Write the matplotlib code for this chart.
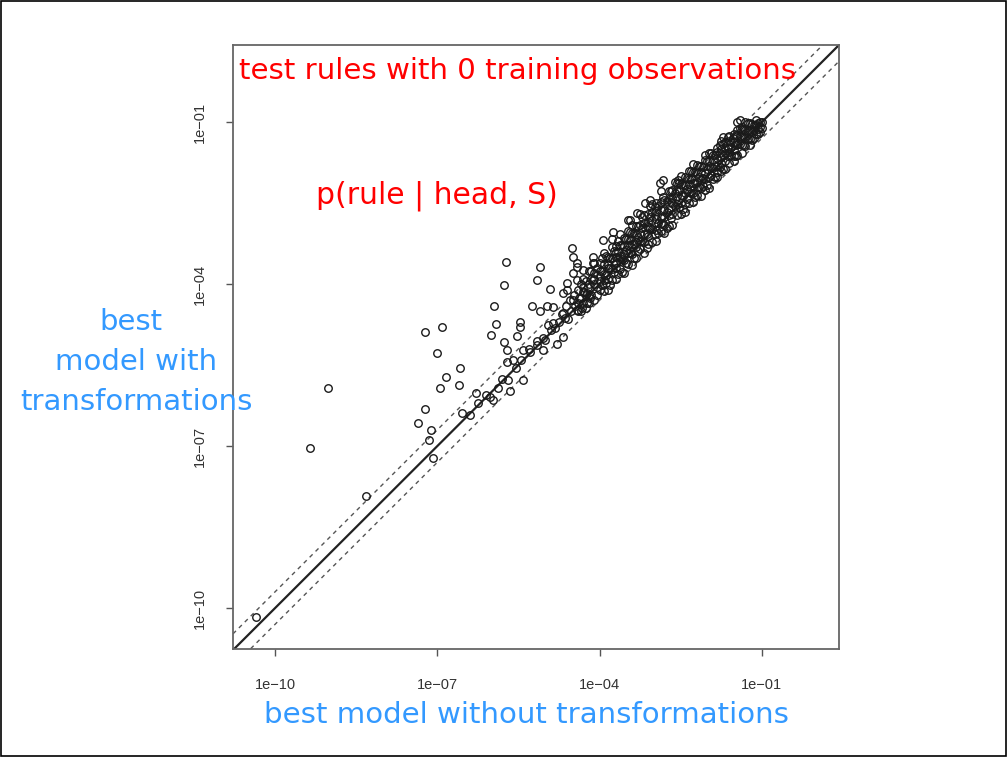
import numpy as np
import matplotlib
matplotlib.use("Agg")
import matplotlib.pyplot as plt
from matplotlib.patches import Rectangle
from matplotlib.ticker import FixedLocator, FixedFormatter, NullLocator

# ---------------- data (log10 values) ----------------
tick_exponents = [-10, -7, -4, -1]
tick_labels = ["1e\u221210", "1e\u221207", "1e\u221204", "1e\u221201"]

# sparse points (left of the dense band)
sparse_lx = [-10.35, -9.35, -9.02, -8.32, -7.23, -6.91, -7.00, -6.95, -7.23, -7.36,
             -7.12, -7.16, -7.08, -6.58, -6.84, -6.60, -6.28, -6.02, -6.54, -5.73,
             -5.10, -5.16, -5.77, -4.92, -5.95, -5.25, -4.97, -5.10, -5.47, -5.91,
             -5.47, -6.01, -5.53, -5.77, -5.71, -5.42, -5.16, -5.71, -5.69, -5.66,
             -5.42, -5.05, -4.79, -4.68, -4.49, -4.42, -4.60, -4.42, -4.68, -4.49,
             -4.86, -4.86, -4.68, -4.42, -4.23, -4.12, -4.12, -4.31, -4.23,
             -5.88, -5.29, -5.01, -4.82, -4.64, -6.40, -5.97, -5.60,
             -4.51, -4.42, -4.49, -4.60, -4.12, -3.94, -3.75, -3.44, -3.31, -3.16,
             -3.07, -2.88, -2.55, -1.40, -1.37, -1.72, -1.53, -1.83, -2.83]
sparse_ly = [-10.17, -7.04, -5.93, -7.93, -4.89, -4.80, -5.28, -5.93, -6.31, -6.57,
             -6.70, -6.89, -7.22, -5.56, -5.72, -5.87, -6.02, -6.09, -6.39, -3.59,
             -3.69, -3.93, -4.02, -4.09, -4.41, -4.41, -4.41, -4.50, -4.70, -4.74,
             -4.80, -4.94, -4.96, -5.07, -5.22, -5.22, -5.13, -5.44, -5.78, -5.98,
             -5.78, -5.22, -5.11, -4.98, -3.50, -3.69, -4.11, -3.93, -4.17, -4.30,
             -4.43, -4.72, -4.54, -4.48, -4.35, -3.93, -3.61, -3.74, -4.17,
             -5.93, -5.26, -5.04, -4.81, -4.63, -6.43, -6.15, -5.41,
             -3.33, -3.61, -3.80, -3.98, -3.50, -3.19, -3.04, -2.81, -2.69, -2.50,
             -2.44, -2.13, -2.07, -0.96, -1.09, -1.28, -1.30, -1.56, -2.07]

# points hugging the diagonal at the lower-left end of the band
foot_lx = [-4.75, -4.70, -4.62, -4.58, -4.55, -4.52, -4.47, -4.45, -4.38, -4.33,
           -4.28, -4.22, -4.18, -4.90, -4.95, -5.05, -5.15, -5.30, -5.45, -5.55,
           -5.80, -6.10, -6.25]
foot_ly = [-4.70, -4.55, -4.40, -4.65, -4.30, -4.50, -4.20, -4.40, -4.25, -4.45,
           -4.15, -4.05, -4.25, -4.85, -4.75, -5.00, -5.05, -5.20, -5.40, -5.55,
           -5.75, -6.05, -6.20]

# dense band along the diagonal
band_lx = ([-4.40] * 3 + [-4.30] * 4 + [-4.20] * 4 + [-4.10] * 5 + [-4.00] * 5 +
           [-3.92] * 5 + [-3.85] * 5 + [-3.77] * 5 + [-3.70] * 6 + [-3.62] * 5 +
           [-3.55] * 5 + [-3.47] * 6 + [-3.40] * 5 + [-3.32] * 5 + [-3.25] * 5 +
           [-3.17] * 5 + [-3.10] * 5 + [-3.02] * 5 + [-2.95] * 5 + [-2.87] * 6 +
           [-2.80] * 5 + [-2.72] * 5 + [-2.65] * 5 + [-2.57] * 5 + [-2.50] * 5 +
           [-2.42] * 5 + [-2.35] * 5 + [-2.27] * 5 + [-2.20] * 5 + [-2.12] * 5 +
           [-2.05] * 5 + [-1.97] * 5 + [-1.90] * 4 + [-1.82] * 5 + [-1.75] * 5 +
           [-1.67] * 5 + [-1.60] * 4 + [-1.52] * 5 + [-1.45] * 5 + [-1.37] * 4 +
           [-1.30] * 4 + [-1.22] * 4 + [-1.15] * 3 + [-1.07] * 3 + [-1.00] * 2)
band_ly = [-4.35, -4.10, -4.50,
           -4.15, -3.90, -4.35, -4.05,
           -4.20, -4.00, -3.75, -4.35,
           -4.00, -3.80, -4.30, -3.60, -3.90,
           -3.95, -3.75, -3.60, -4.10, -3.85,
           -4.12, -3.82, -3.62, -3.42, -3.92,
           -3.65, -3.50, -3.90, -3.70, -4.10,
           -3.72, -3.52, -3.32, -3.92, -3.17,
           -3.60, -3.40, -3.90, -3.70, -3.30, -3.50,
           -3.72, -3.47, -3.27, -3.07, -3.57,
           -3.30, -3.55, -3.80, -3.15, -3.45,
           -3.42, -3.27, -3.02, -3.62, -3.17, -2.82,
           -3.25, -3.45, -3.05, -3.65, -2.90,
           -3.32, -3.07, -2.92, -3.52, -3.22,
           -3.05, -3.35, -2.90, -2.70, -3.20,
           -3.07, -2.87, -3.42, -2.72, -3.22,
           -2.85, -3.10, -2.70, -3.25, -2.95,
           -2.97, -2.67, -3.22, -2.52, -2.82,
           -2.80, -3.00, -2.65, -2.50, -3.20,
           -2.87, -2.62, -2.47, -3.02, -2.77, -2.27,
           -2.60, -2.90, -2.45, -2.75, -3.05,
           -2.62, -2.42, -2.27, -2.92, -2.72,
           -2.40, -2.70, -2.50, -2.25, -2.90,
           -2.52, -2.27, -2.72, -2.12, -2.37,
           -2.35, -2.15, -2.70, -2.50, -2.00,
           -2.17, -2.52, -2.32, -2.02, -2.67,
           -2.30, -2.05, -2.50, -2.15, -1.90,
           -2.12, -2.32, -1.92, -2.47, -1.77,
           -2.20, -1.95, -1.80, -2.35, -2.10,
           -1.92, -2.22, -1.82, -2.07, -2.37,
           -1.95, -1.70, -2.25, -2.05, -1.60,
           -1.72, -2.02, -1.82, -2.22, -1.57,
           -1.85, -1.60, -2.05, -1.70,
           -1.67, -1.92, -1.47, -1.82, -2.02,
           -1.65, -1.50, -1.90, -1.35, -1.75,
           -1.47, -1.72, -1.37, -1.87, -1.57,
           -1.55, -1.35, -1.75, -1.25,
           -1.37, -1.62, -1.52, -1.22, -1.72,
           -1.40, -1.25, -1.60, -1.00, -1.15,
           -1.27, -1.42, -1.12, -1.57,
           -1.30, -1.15, -1.45, -1.00,
           -1.17, -1.32, -1.02, -1.42,
           -1.15, -1.30, -1.05,
           -1.12, -1.22, -1.02,
           -1.10, -1.00]

# second pass over the dense band (points between the columns above)
band2_lx = ([-4.35] * 3 + [-4.25] * 3 + [-4.15] * 3 + [-4.05] * 3 + [-3.96] * 3 +
            [-3.88] * 3 + [-3.81] * 3 + [-3.73] * 3 + [-3.66] * 3 + [-3.58] * 3 +
            [-3.51] * 3 + [-3.43] * 3 + [-3.36] * 3 + [-3.28] * 3 + [-3.21] * 3 +
            [-3.13] * 3 + [-3.06] * 3 + [-2.98] * 3 + [-2.91] * 3 + [-2.83] * 3 +
            [-2.76] * 3 + [-2.68] * 3 + [-2.61] * 3 + [-2.53] * 3 + [-2.46] * 3 +
            [-2.38] * 3 + [-2.31] * 3 + [-2.23] * 3 + [-2.16] * 3 + [-2.08] * 3 +
            [-2.01] * 3 + [-1.93] * 3 + [-1.86] * 3 + [-1.78] * 3 + [-1.71] * 3 +
            [-1.63] * 3 + [-1.56] * 3 + [-1.48] * 3 + [-1.41] * 3 + [-1.33] * 3 +
            [-1.26] * 3 + [-1.18] * 3 + [-1.11] * 3 + [-1.04] * 3)
band2_ly = [-4.25, -4.00, -4.50, -3.95, -4.20, -4.45, -3.90, -4.20, -3.75,
            -3.70, -4.05, -4.20, -3.76, -4.01, -3.51, -3.48, -3.83, -3.98,
            -3.71, -3.51, -4.01, -3.38, -3.58, -3.78, -3.41, -3.21, -3.81,
            -3.53, -3.28, -3.78, -3.16, -3.36, -3.61, -3.18, -3.03, -3.43,
            -3.26, -3.06, -3.51, -2.93, -3.13, -3.38, -2.96, -2.76, -3.21,
            -3.08, -2.93, -3.33, -2.76, -2.96, -2.56, -2.73, -3.08, -2.58,
            -2.86, -2.56, -3.06, -2.63, -2.38, -2.88, -2.46, -2.66, -2.96,
            -2.48, -2.28, -2.78, -2.56, -2.31, -2.11, -2.28, -2.58, -2.13,
            -2.36, -2.16, -2.61, -2.03, -2.23, -2.43, -2.06, -2.31, -1.91,
            -2.13, -1.93, -2.38, -1.81, -2.01, -2.21, -1.83, -2.18, -2.03,
            -1.86, -1.71, -2.16, -1.83, -1.58, -1.98, -1.61, -1.81, -2.01,
            -1.58, -1.43, -1.83, -1.61, -1.41, -1.86, -1.48, -1.63, -1.28,
            -1.36, -1.61, -1.46, -1.43, -1.23, -1.63, -1.26, -1.41, -1.11,
            -1.28, -1.13, -1.43, -1.16, -1.31, -1.01, -1.18, -1.03, -1.33,
            -1.06, -1.21, -0.96, -1.09, -0.99, -1.19]

band_factor = 2.0  # dashed reference lines at 2x and 1/2x
x_limits_log = (-10.78, 0.43)
y_limits_log = (-10.76, 0.43)

title_text = "test rules with 0 training observations"
subtitle_text = "p(rule | head, S)"
ylabel_lines = ["best", "model with", "transformations"]
xlabel_text = "best model without transformations"

# ---------------- figure ----------------
W, H = 1008, 757
fig = plt.figure(figsize=(W / 100, H / 100), dpi=100)
fig.patch.set_facecolor("white")
ax = fig.add_axes([233 / W, 1 - 649 / H, 606 / W, 604 / H])
ax.set_xscale("log")
ax.set_yscale("log")
ax.set_xlim(10 ** x_limits_log[0], 10 ** x_limits_log[1])
ax.set_ylim(10 ** y_limits_log[0], 10 ** y_limits_log[1])

all_lx = sparse_lx + foot_lx + band_lx + band2_lx
all_ly = sparse_ly + foot_ly + band_ly + band2_ly
xs = np.power(10.0, np.array(all_lx))
ys = np.power(10.0, np.array(all_ly))
ax.plot(xs, ys, linestyle="none", marker="o", markersize=5.4,
        markerfacecolor="none", markeredgecolor="#1a1a1a", markeredgewidth=1.0,
        zorder=3)

line_x = np.array([10 ** x_limits_log[0], 10 ** x_limits_log[1]])
ax.plot(line_x, line_x, color="#222222", lw=1.6, zorder=2)
ax.plot(line_x, line_x * band_factor, color="#555555", lw=1.0,
        linestyle=(0, (3, 3)), zorder=2)
ax.plot(line_x, line_x / band_factor, color="#555555", lw=1.0,
        linestyle=(0, (3, 3)), zorder=2)

ticks = [10.0 ** e for e in tick_exponents]
for axis in (ax.xaxis, ax.yaxis):
    axis.set_major_locator(FixedLocator(ticks))
    axis.set_major_formatter(FixedFormatter(tick_labels))
    axis.set_minor_locator(NullLocator())
ax.tick_params(axis="both", direction="out", length=5, width=1.0, color="#555555",
               labelsize=10.5, labelcolor="#333333")
ax.tick_params(axis="x", pad=16)
ax.tick_params(axis="y", pad=14)
for lab in ax.get_yticklabels():
    lab.set_rotation(90)
    lab.set_va("center")
    lab.set_ha("right")
for lab in ax.get_xticklabels() + ax.get_yticklabels():
    lab.set_family("Liberation Sans")
for sp in ax.spines.values():
    sp.set_color("#666666")
    sp.set_linewidth(1.3)

# ---------------- texts, sized to reference widths ----------------
renderer = fig.canvas.get_renderer()


def fit_text(cx, cy, s, target_w, color, family="DejaVu Sans", size=None):
    t = fig.text(cx / W, 1 - cy / H, s, ha="center", va="center", color=color,
                 family=family, fontsize=20)
    if size is None:
        w = t.get_window_extent(renderer).width
        size = 20 * target_w / w
    t.set_fontsize(size)
    return size


red = "#ff0000"
blue = "#3399ff"
fit_text(518, 71, title_text, 557, red)
fit_text(437, 196, subtitle_text, 242, red)
fit_text(527, 715, xlabel_text, 525, blue)
sz = fit_text(136, 402, ylabel_lines[2], 232, blue)
fit_text(136, 362, ylabel_lines[1], 0, blue, size=sz)
fit_text(131, 322, ylabel_lines[0], 0, blue, size=sz)

fig.patches.append(Rectangle((0.0005, 0.001), 0.998, 0.998, transform=fig.transFigure,
                             fill=False, edgecolor="black", lw=1.2))

fig.savefig("out.png", dpi=100, facecolor="white")
